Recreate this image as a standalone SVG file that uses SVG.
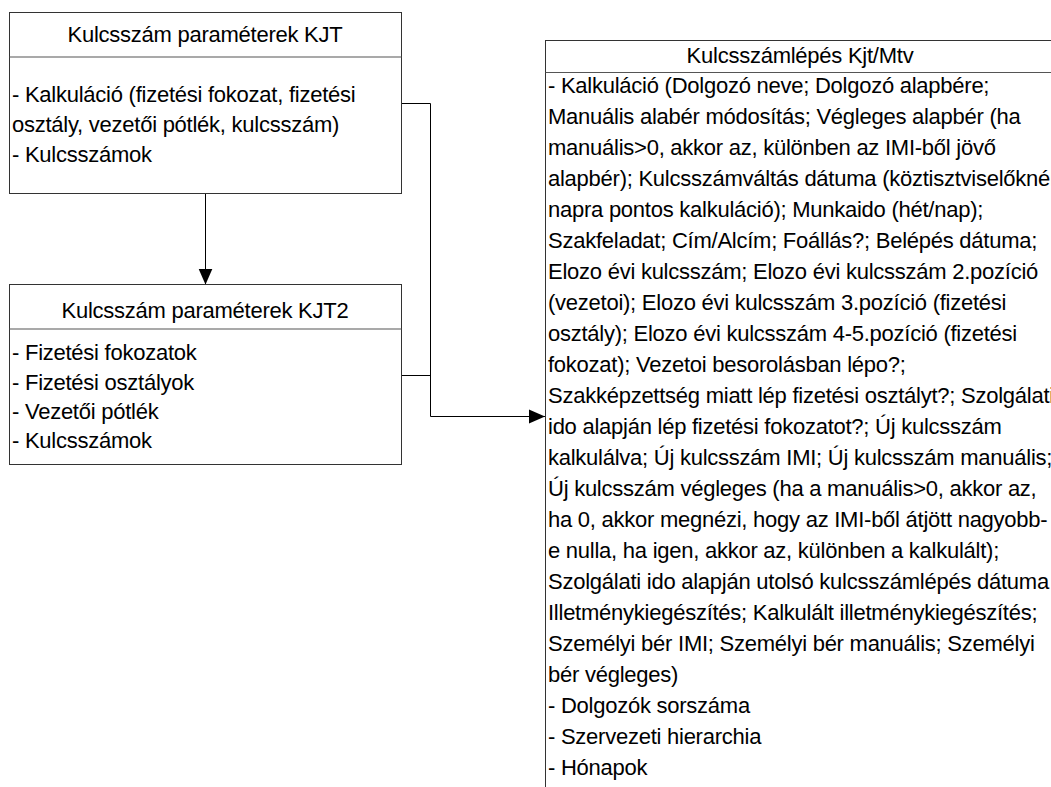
<svg xmlns="http://www.w3.org/2000/svg" width="1051" height="787" viewBox="0 0 1051 787">
  <style>
    .box { fill: #ffffff; stroke: #333333; stroke-width: 1; }
    .div { stroke: #555555; stroke-width: 1.2; fill: none; }
    .wire { stroke: #000000; stroke-width: 1; fill: none; }
    .t { font-family: "Liberation Sans", Arial, sans-serif; font-size: 22px; letter-spacing: -0.25px; fill: #000000; }
    .c { text-anchor: middle; }
  </style>
  <defs>
    <marker id="arrow" markerUnits="userSpaceOnUse" markerWidth="16" markerHeight="16" viewBox="0 0 16 16" refX="16" refY="8" orient="auto">
      <path d="M0,1 L16,8 L0,15 Z" fill="#000000"/>
    </marker>
  </defs>

  <rect width="1051" height="787" fill="#ffffff"/>

  <!-- connectors -->
  <g id="connectors">
    <path class="wire" d="M205.5,193.5 L205.5,284.5" marker-end="url(#arrow)"/>
    <path class="wire" d="M401.5,103.5 L430.5,103.5 L430.5,416.5 L545,416.5" marker-end="url(#arrow)"/>
    <path class="wire" d="M401.5,375.5 L430.5,375.5"/>
  </g>

  <!-- Kulcsszám paraméterek KJT -->
  <g id="kjt">
    <rect class="box" x="9.5" y="12.5" width="392" height="181"/>
    <line class="div" x1="9.5" y1="57" x2="401.5" y2="57"/>
    <text class="t c" x="205" y="42">Kulcsszám paraméterek KJT</text>
    <text class="t" x="12" y="102">- Kalkuláció (fizetési fokozat, fizetési</text>
    <text class="t" x="12" y="132">osztály, vezetői pótlék, kulcsszám)</text>
    <text class="t" x="12" y="162">- Kulcsszámok</text>
  </g>

  <!-- Kulcsszám paraméterek KJT2 -->
  <g id="kjt2">
    <rect class="box" x="9.5" y="284.5" width="392" height="180"/>
    <line class="div" x1="9.5" y1="329" x2="401.5" y2="329"/>
    <text class="t c" x="205" y="318">Kulcsszám paraméterek KJT2</text>
    <text class="t" x="12" y="360">- Fizetési fokozatok</text>
    <text class="t" x="12" y="390">- Fizetési osztályok</text>
    <text class="t" x="12" y="419">- Vezetői pótlék</text>
    <text class="t" x="12" y="448">- Kulcsszámok</text>
  </g>

  <!-- Kulcsszámlépés Kjt/Mtv -->
  <g id="kulcsszamlepes">
    <rect class="box" x="545.5" y="40.5" width="510" height="760"/>
    <line class="div" x1="545.5" y1="72.5" x2="1055" y2="72.5"/>
    <text class="t c" x="800" y="63">Kulcsszámlépés Kjt/Mtv</text>
    <text class="t" x="548" y="93">- Kalkuláció (Dolgozó neve; Dolgozó alapbére;</text>
    <text class="t" x="548" y="124">Manuális alabér módosítás; Végleges alapbér (ha</text>
    <text class="t" x="548" y="155">manuális&gt;0, akkor az, különben az IMI-ből jövő</text>
    <text class="t" x="548" y="186">alapbér); Kulcsszámváltás dátuma (köztisztviselőknél</text>
    <text class="t" x="548" y="217">napra pontos kalkuláció); Munkaido (hét/nap);</text>
    <text class="t" x="548" y="248">Szakfeladat; Cím/Alcím; Foállás?; Belépés dátuma;</text>
    <text class="t" x="548" y="279">Elozo évi kulcsszám; Elozo évi kulcsszám 2.pozíció</text>
    <text class="t" x="548" y="310">(vezetoi); Elozo évi kulcsszám 3.pozíció (fizetési</text>
    <text class="t" x="548" y="341">osztály); Elozo évi kulcsszám 4-5.pozíció (fizetési</text>
    <text class="t" x="548" y="372">fokozat); Vezetoi besorolásban lépo?;</text>
    <text class="t" x="548" y="403">Szakképzettség miatt lép fizetési osztályt?; Szolgálati</text>
    <text class="t" x="548" y="434">ido alapján lép fizetési fokozatot?; Új kulcsszám</text>
    <text class="t" x="548" y="465">kalkulálva; Új kulcsszám IMI; Új kulcsszám manuális;</text>
    <text class="t" x="548" y="496">Új kulcsszám végleges (ha a manuális&gt;0, akkor az,</text>
    <text class="t" x="548" y="527">ha 0, akkor megnézi, hogy az IMI-ből átjött nagyobb-</text>
    <text class="t" x="548" y="558">e nulla, ha igen, akkor az, különben a kalkulált);</text>
    <text class="t" x="548" y="589">Szolgálati ido alapján utolsó kulcsszámlépés dátuma</text>
    <text class="t" x="548" y="620">Illetménykiegészítés; Kalkulált illetménykiegészítés;</text>
    <text class="t" x="548" y="651">Személyi bér IMI; Személyi bér manuális; Személyi</text>
    <text class="t" x="548" y="682">bér végleges)</text>
    <text class="t" x="548" y="713">- Dolgozók sorszáma</text>
    <text class="t" x="548" y="744">- Szervezeti hierarchia</text>
    <text class="t" x="548" y="775">- Hónapok</text>
  </g>
</svg>
